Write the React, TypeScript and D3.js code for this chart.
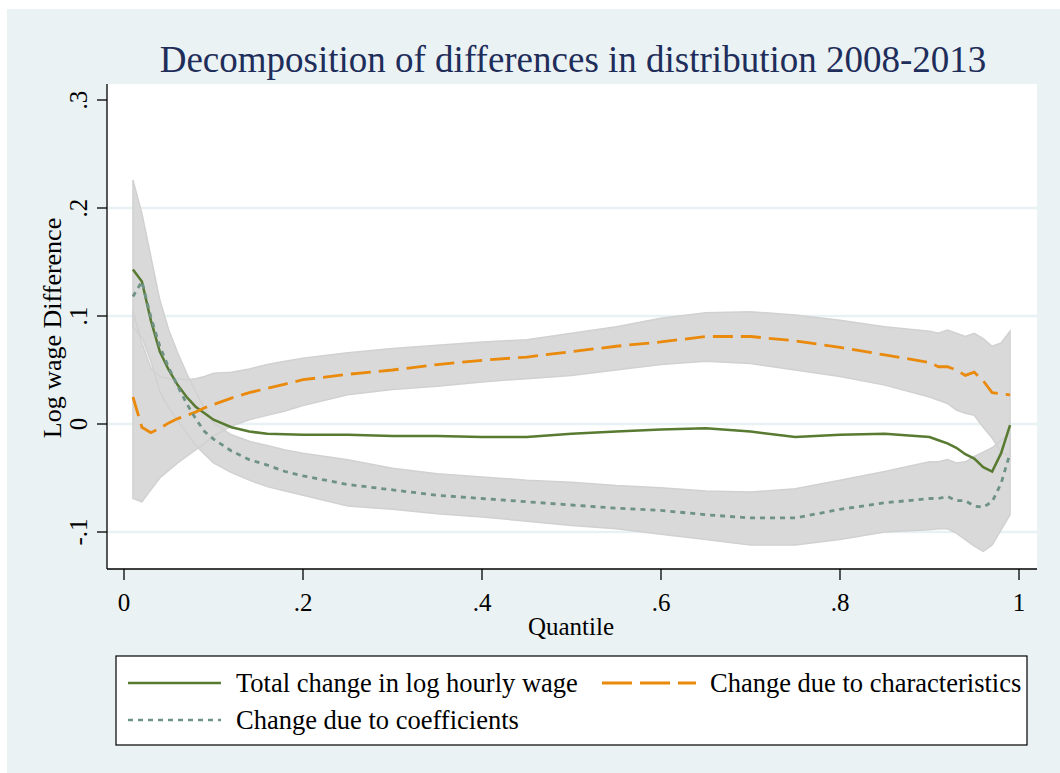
import React from 'react';
import * as d3 from 'd3';

// quantile grid
const quantiles = [
  0.01, 0.02, 0.03, 0.04, 0.05, 0.06, 0.07, 0.08, 0.09, 0.10,
  0.12, 0.14, 0.16, 0.18, 0.20, 0.25, 0.30, 0.35, 0.40, 0.45,
  0.50, 0.55, 0.60, 0.65, 0.70, 0.75, 0.80, 0.85, 0.90, 0.91,
  0.92, 0.93, 0.94, 0.95, 0.96, 0.97, 0.98, 0.99,
];

const totalChange = [
  0.143, 0.132, 0.096, 0.067, 0.050, 0.036, 0.025, 0.016, 0.010, 0.004,
  -0.003, -0.007, -0.009, -0.0095, -0.010, -0.010, -0.011, -0.011, -0.012, -0.012,
  -0.009, -0.007, -0.005, -0.004, -0.007, -0.012, -0.010, -0.009, -0.012, -0.015,
  -0.018, -0.022, -0.028, -0.032, -0.040, -0.044, -0.027, -0.001,
];

const characteristics = [
  0.025, -0.003, -0.008, -0.004, 0.001, 0.005, 0.008, 0.011, 0.015, 0.018,
  0.024, 0.029, 0.033, 0.037, 0.041, 0.046, 0.050, 0.055, 0.059, 0.062,
  0.067, 0.072, 0.076, 0.081, 0.081, 0.077, 0.071, 0.064, 0.057, 0.053,
  0.053, 0.050, 0.045, 0.048, 0.040, 0.029, 0.028, 0.027,
];

const charUpper = [
  0.105, 0.075, 0.052, 0.044, 0.042, 0.042, 0.041, 0.042, 0.044, 0.047,
  0.048, 0.051, 0.055, 0.058, 0.061, 0.066, 0.070, 0.073, 0.076, 0.078,
  0.084, 0.090, 0.098, 0.103, 0.104, 0.101, 0.096, 0.090, 0.086, 0.084,
  0.087, 0.084, 0.081, 0.084, 0.079, 0.072, 0.075, 0.086,
];

const charLower = [
  -0.069, -0.072, -0.061, -0.050, -0.043, -0.036, -0.030, -0.024, -0.018, -0.011,
  -0.002, 0.004, 0.008, 0.012, 0.017, 0.027, 0.032, 0.035, 0.039, 0.042,
  0.045, 0.050, 0.055, 0.058, 0.056, 0.050, 0.044, 0.036, 0.025, 0.022,
  0.019, 0.013, 0.010, 0.008, -0.003, -0.013, -0.026, -0.030,
];

const coefficients = [
  0.118, 0.132, 0.099, 0.072, 0.052, 0.035, 0.019, 0.005, -0.007, -0.014,
  -0.025, -0.033, -0.038, -0.044, -0.048, -0.056, -0.061, -0.066, -0.069, -0.072,
  -0.075, -0.078, -0.080, -0.084, -0.087, -0.087, -0.079, -0.073, -0.069, -0.069,
  -0.067, -0.071, -0.071, -0.076, -0.077, -0.072, -0.055, -0.027,
];

const coefUpper = [
  0.226, 0.195, 0.155, 0.115, 0.087, 0.066, 0.047, 0.030, 0.015, 0.001,
  -0.010, -0.016, -0.020, -0.024, -0.027, -0.033, -0.041, -0.046, -0.049, -0.052,
  -0.054, -0.057, -0.059, -0.062, -0.063, -0.060, -0.052, -0.044, -0.035, -0.035,
  -0.033, -0.036, -0.035, -0.030, -0.026, -0.022, -0.015, -0.009,
];

const coefLower = [
  0.090, 0.080, 0.058, 0.030, 0.015, 0.003, -0.008, -0.020, -0.028, -0.036,
  -0.045, -0.052, -0.058, -0.062, -0.066, -0.076, -0.079, -0.083, -0.086, -0.090,
  -0.094, -0.097, -0.102, -0.107, -0.112, -0.112, -0.107, -0.100, -0.098, -0.097,
  -0.097, -0.101, -0.107, -0.113, -0.118, -0.112, -0.098, -0.084,
];

const xTicks = [0, 0.2, 0.4, 0.6, 0.8, 1];
const xTickLabels = ['0', '.2', '.4', '.6', '.8', '1'];
const yTicks = [-0.1, 0, 0.1, 0.2, 0.3];
const yTickLabels = ['-.1', '0', '.1', '.2', '.3'];
const gridTicks = [-0.1, 0, 0.1, 0.2];

const W = 1060;
const H = 773;
const serif = '"Liberation Serif", "Times New Roman", serif';

const GREEN = '#587a31';
const ORANGE = '#ea8a0c';
const TEAL = '#6e9283';
const BAND = '#d9d9d9';
const BAND_EDGE = '#d1d1d1';

const App: React.FC = () => {
  const x = d3.scaleLinear().domain([0, 1]).range([124, 1019]);
  const y = d3.scaleLinear().domain([-0.1, 0.3]).range([532, 100]);

  const plot = { left: 107, right: 1037, top: 84, bottom: 569 };

  const band = (lo: number[], hi: number[]) =>
    d3
      .area<number>()
      .x((_, i) => x(quantiles[i]))
      .y0((_, i) => y(lo[i]))
      .y1((_, i) => y(hi[i]))(quantiles) || '';

  const bandEdge = (lo: number[], hi: number[]) => {
    const pts: [number, number][] = [];
    quantiles.forEach((q, i) => pts.push([x(q), y(hi[i])]));
    for (let i = quantiles.length - 1; i >= 0; i--) pts.push([x(quantiles[i]), y(lo[i])]);
    return (d3.line()(pts) || '') + 'Z';
  };

  const line = (vals: number[]) =>
    d3
      .line<number>()
      .x((_, i) => x(quantiles[i]))
      .y((v) => y(v))(vals) || '';

  return (
    <svg
      width={W}
      height={H}
      style={{ position: 'absolute', left: 0, top: 0, background: '#ffffff' }}
    >
      <rect x={7} y={9} width={W - 7} height={H - 9} fill="#eaf2f3" />
      <rect
        x={plot.left}
        y={plot.top}
        width={plot.right - plot.left}
        height={plot.bottom - plot.top}
        fill="#ffffff"
      />

      {/* gridlines */}
      {gridTicks.map((t) => (
        <line
          key={t}
          x1={plot.left}
          x2={plot.right}
          y1={y(t)}
          y2={y(t)}
          stroke="#e8f1f3"
          strokeWidth={2.5}
        />
      ))}

      {/* confidence bands */}
      <path d={band(coefLower, coefUpper)} fill={BAND} />
      <path d={band(charLower, charUpper)} fill={BAND} />
      <path d={bandEdge(coefLower, coefUpper)} fill="none" stroke={BAND_EDGE} strokeWidth={1.5} />
      <path d={bandEdge(charLower, charUpper)} fill="none" stroke={BAND_EDGE} strokeWidth={1.5} />

      {/* series */}
      <path d={line(totalChange)} fill="none" stroke={GREEN} strokeWidth={2.5} />
      <path
        d={line(characteristics)}
        fill="none"
        stroke={ORANGE}
        strokeWidth={2.8}
        strokeDasharray="20 8"
      />
      <path
        d={line(coefficients)}
        fill="none"
        stroke={TEAL}
        strokeWidth={2.8}
        strokeDasharray="5 5"
      />

      {/* axes */}
      <line x1={plot.left} x2={plot.left} y1={plot.top} y2={plot.bottom} stroke="#000" strokeWidth={1.3} />
      <line x1={plot.left} x2={plot.right} y1={plot.bottom} y2={plot.bottom} stroke="#000" strokeWidth={1.3} />
      {yTicks.map((t, i) => (
        <g key={t}>
          <line x1={plot.left - 10} x2={plot.left} y1={y(t)} y2={y(t)} stroke="#000" strokeWidth={1.3} />
          <text
            transform={`translate(87,${y(t)}) rotate(-90)`}
            textAnchor="middle"
            fontFamily={serif}
            fontSize={25}
            fill="#000"
          >
            {yTickLabels[i]}
          </text>
        </g>
      ))}
      {xTicks.map((t, i) => (
        <g key={t}>
          <line x1={x(t)} x2={x(t)} y1={plot.bottom} y2={plot.bottom + 11} stroke="#000" strokeWidth={1.3} />
          <text x={x(t)} y={611} textAnchor="middle" fontFamily={serif} fontSize={25} fill="#000">
            {xTickLabels[i]}
          </text>
        </g>
      ))}

      <text x={571} y={635} textAnchor="middle" fontFamily={serif} fontSize={25} fill="#000">
        Quantile
      </text>
      <text
        transform="translate(61,328) rotate(-90)"
        textAnchor="middle"
        fontFamily={serif}
        fontSize={26}
        fill="#000"
      >
        Log wage Difference
      </text>

      <text x={573} y={72} textAnchor="middle" fontFamily={serif} fontSize={37} fill="#1e2d5a">
        Decomposition of differences in distribution 2008-2013
      </text>

      {/* legend */}
      <rect x={116} y={656} width={911} height={89} fill="#ffffff" stroke="#000" strokeWidth={1.2} />
      <line x1={128} x2={221} y1={683} y2={683} stroke={GREEN} strokeWidth={2.5} />
      <text x={236} y={692} fontFamily={serif} fontSize={26.5} fill="#000">
        Total change in log hourly wage
      </text>
      <line x1={602} x2={696} y1={683} y2={683} stroke={ORANGE} strokeWidth={2.8} strokeDasharray="30 8" />
      <text x={710} y={692} fontFamily={serif} fontSize={26.5} fill="#000">
        Change due to characteristics
      </text>
      <line x1={128} x2={221} y1={720} y2={720} stroke={TEAL} strokeWidth={2.5} strokeDasharray="5 5" />
      <text x={236} y={729} fontFamily={serif} fontSize={26.5} fill="#000">
        Change due to coefficients
      </text>
    </svg>
  );
};

export default App;
